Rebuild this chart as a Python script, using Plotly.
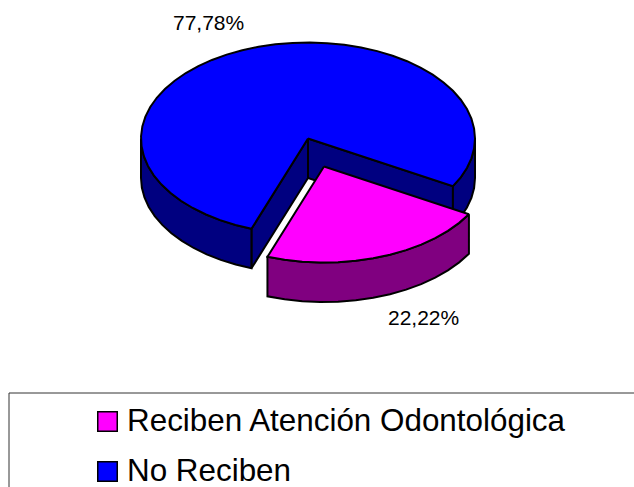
import math
import plotly.graph_objects as go

categories = ["Reciben Atención Odontológica", "No Reciben"]
values = [22.22, 77.78]
top_colors = ["#FF00FF", "#0000FF"]
side_colors = ["#800080", "#000080"]

W, H = 634, 487
CX, CY, RX, RY = 308, 138.5, 167, 96
DEPTH = 39.5
START = 29.8
EXPLODE = (16, 28)
STEP = 6
LW = 2


def pt(a, dx=0, dy=0):
    r = math.radians(a)
    return CX + RX * math.cos(r) + dx, CY + RY * math.sin(r) + dy


def arc(a0, a1, dx=0, dy=0):
    n = max(1, int(round(abs(a1 - a0) / STEP)))
    return [pt(a0 + (a1 - a0) * i / n, dx, dy) for i in range(n + 1)]


def poly(fig, pts, color, name):
    xs = [p[0] for p in pts] + [pts[0][0]]
    ys = [p[1] for p in pts] + [pts[0][1]]
    fig.add_trace(go.Scatter(x=xs, y=ys, mode="lines", fill="toself", fillcolor=color,
                             line=dict(color="black", width=LW), name=name,
                             showlegend=False, hoverinfo="name"))


def walls(fig, a0, a1, dx, dy, color, name):
    """Outer wall, only where the rim faces the viewer (0..180 degrees, mod 360)."""
    for k in (0, 360):
        lo, hi = max(a0, k), min(a1, k + 180)
        if lo < hi:
            poly(fig, arc(lo, hi, dx, dy) + arc(hi, lo, dx, dy + DEPTH), color, name)


fig = go.Figure()
total = sum(values)
sweep = [v / total * 360 for v in values]
a_pink = (START, START + sweep[0])
a_blue = (a_pink[1], a_pink[1] + sweep[1])

# Blue slice
c = (CX, CY)
cb = (CX, CY + DEPTH)
for a in a_blue:
    p = pt(a)
    poly(fig, [c, p, (p[0], p[1] + DEPTH), cb], side_colors[1], categories[1])
walls(fig, a_blue[0], a_blue[1], 0, 0, side_colors[1], categories[1])
poly(fig, [c] + arc(a_blue[0], a_blue[1]), top_colors[1], categories[1])

# Exploded pink slice
dx, dy = EXPLODE
walls(fig, a_pink[0], a_pink[1], dx, dy, side_colors[0], categories[0])
poly(fig, [(CX + dx, CY + dy)] + arc(a_pink[0], a_pink[1], dx, dy), top_colors[0], categories[0])

# Percent labels
label_pos = [(423, 317), (208, 22)]
for v, (x, y) in zip(values, label_pos):
    fig.add_annotation(x=x, y=y, text=f"{v:.2f}".replace(".", ",") + "%", showarrow=False,
                       font=dict(family="Liberation Sans", size=21, color="black"))

# Legend
for cat, col, y in zip(categories, top_colors, (421.5, 471.5)):
    fig.add_trace(go.Scatter(x=[107.5], y=[y], mode="markers", showlegend=False, name=cat,
                             marker=dict(symbol="square", size=19.5, color=col,
                                         line=dict(color="black", width=1.5))))
    fig.add_trace(go.Scatter(x=[127], y=[y + 2], mode="text", text=[cat], showlegend=False, name=cat,
                             textposition="middle right", hoverinfo="skip",
                             textfont=dict(family="Liberation Sans", size=31.4, color="black")))
fig.add_shape(type="path", path=f"M 9 {H} L 9 393 L {W} 393", line=dict(color="#333333", width=1))

axis = dict(visible=False, fixedrange=True)
fig.update_layout(width=W, height=H, margin=dict(l=0, r=0, t=0, b=0),
                  paper_bgcolor="white", plot_bgcolor="white", showlegend=False,
                  xaxis=dict(range=[0, W], **axis), yaxis=dict(range=[H, 0], **axis))
fig.write_html("out.html", config=dict(displayModeBar=False),
               post_script="document.body.style.margin='0';document.body.style.overflow='hidden';")
